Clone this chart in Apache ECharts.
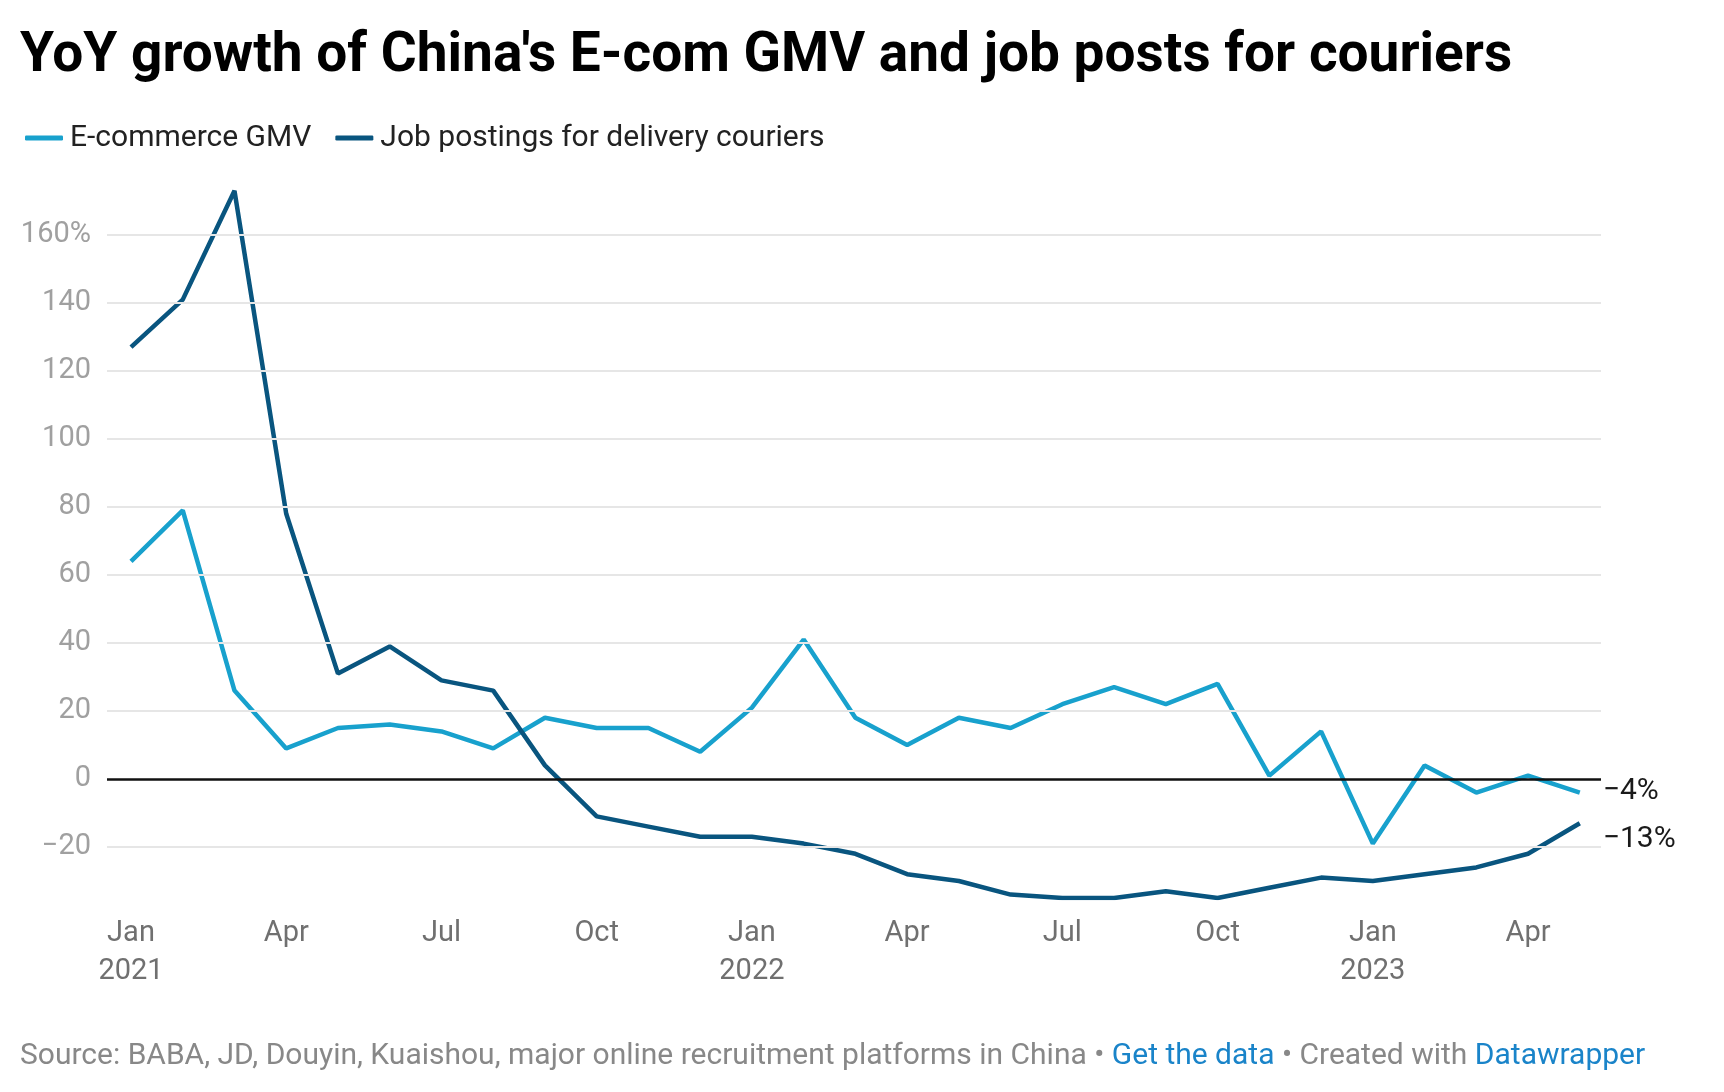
<!DOCTYPE html>
<html>
<head>
<meta charset="utf-8">
<title>YoY growth of China's E-com GMV and job posts for couriers</title>
<script src="https://cdn.jsdelivr.net/npm/echarts@6/dist/echarts.min.js"></script>
<style>
  html, body { margin: 0; padding: 0; background: #fff; }
  #chart { width: 1724px; height: 1092px; }
</style>
</head>
<body>
<div id="chart"></div>
<script>
// months Jan 2021 .. May 2023
var months = ['2021-01','2021-02','2021-03','2021-04','2021-05','2021-06','2021-07','2021-08','2021-09','2021-10','2021-11','2021-12',
  '2022-01','2022-02','2022-03','2022-04','2022-05','2022-06','2022-07','2022-08','2022-09','2022-10','2022-11','2022-12',
  '2023-01','2023-02','2023-03','2023-04','2023-05'];
// YoY growth in %
var gmv = [64, 79, 26, 9, 15, 16, 14, 9, 18, 15, 15, 8,
  21, 41, 18, 10, 18, 15, 22, 27, 22, 28, 1, 14,
  -19, 4, -4, 1, -4];
var jobPosts = [127, 141, 173, 78, 31, 39, 29, 26, 4, -11, -14, -17,
  -17, -19, -22, -28, -30, -34, -35, -35, -33, -35, -32, -29,
  -30, -28, -26, -22, -13];
// x tick labels (month index -> label)
var xTickIdx = [0, 3, 6, 9, 12, 15, 18, 21, 24, 27];
var xTickLabels = ['Jan\n2021', 'Apr', 'Jul', 'Oct', 'Jan\n2022', 'Apr', 'Jul', 'Oct', 'Jan\n2023', 'Apr'];
var yTicks = [-20, 0, 20, 40, 60, 80, 100, 120, 140, 160];

var gmvColor = '#18a1cd';
var jobColor = '#09557f';

var chart = echarts.init(document.getElementById('chart'));

function minus(v) {
  return v < 0 ? '\u2212' + Math.abs(v) : String(v);
}

// gridlines drawn as markLines so they can stop at -20 / 160
var gridLines = yTicks.map(function (v) {
  if (v === 0) {
    return { yAxis: 0, lineStyle: { color: '#111', width: 2.5, type: 'solid' } };
  }
  return { yAxis: v };
});

var option = {
  animation: false,
  textStyle: { fontFamily: 'Roboto' },
  grid: { left: 107, right: 123, top: 184, bottom: 194 },
  legend: {
    left: 20,
    top: 118,
    icon: 'roundRect',
    itemWidth: 38,
    itemHeight: 5,
    itemGap: 24,
    textStyle: { fontSize: 30, color: '#222', padding: [0, 0, 0, 2] },
    data: ['E-commerce GMV', 'Job postings for delivery couriers']
  },
  graphic: [
    {
      type: 'text',
      left: 20,
      top: 30,
      style: {
        text: "YoY growth of China's E-com GMV and job posts for couriers",
        font: 'bold 55px Roboto',
        fill: '#000'
      }
    },
    {
      type: 'text',
      left: 20,
      top: 1041,
      style: {
        text: '{a|Source: BABA, JD, Douyin, Kuaishou, major online recruitment platforms in China \u2022 }{b|Get the data}{a| \u2022 Created with }{b|Datawrapper}',
        rich: {
          a: { fontSize: 30, fontFamily: 'Roboto', fill: '#888' },
          b: { fontSize: 30, fontFamily: 'Roboto', fill: '#1a84c9' }
        }
      }
    }
  ],
  xAxis: {
    type: 'value',
    min: -0.464,
    max: 28.41,
    axisLine: { show: false },
    axisTick: { show: false },
    splitLine: { show: false },
    axisLabel: {
      customValues: xTickIdx,
      formatter: function (v) {
        var k = xTickIdx.indexOf(Math.round(v));
        return k >= 0 ? xTickLabels[k] : '';
      },
      fontSize: 29,
      lineHeight: 38,
      color: '#707070',
      margin: 17
    }
  },
  yAxis: {
    type: 'value',
    min: -35,
    max: 175,
    axisLine: { show: false },
    axisTick: { show: false },
    splitLine: { show: false },
    axisLabel: {
      customValues: yTicks,
      formatter: function (v) {
        return v === 160 ? '160%' : minus(v);
      },
      fontSize: 29,
      color: '#a0a0a0',
      padding: [5, 0, 0, 0],
      margin: 16
    }
  },
  series: [
    {
      name: 'grid',
      type: 'line',
      data: [],
      z: 1,
      silent: true,
      markLine: {
        silent: true,
        symbol: 'none',
        label: { show: false },
        lineStyle: { color: '#e6e6e6', width: 2, type: 'solid' },
        data: gridLines
      }
    },
    {
      name: 'E-commerce GMV',
      type: 'line',
      z: 3,
      data: gmv.map(function (v, i) { return [i, v]; }),
      showSymbol: false,
      itemStyle: { color: gmvColor },
      lineStyle: { width: 4.5, color: gmvColor },
      endLabel: {
        show: true,
        formatter: function (p) { return minus(p.value[1]) + '%'; },
        fontSize: 30,
        color: '#1a1a1a',
        offset: [15, -1]
      }
    },
    {
      name: 'Job postings for delivery couriers',
      type: 'line',
      z: 4,
      data: jobPosts.map(function (v, i) { return [i, v]; }),
      showSymbol: false,
      itemStyle: { color: jobColor },
      lineStyle: { width: 4.5, color: jobColor },
      endLabel: {
        show: true,
        formatter: function (p) { return minus(p.value[1]) + '%'; },
        fontSize: 30,
        color: '#1a1a1a',
        offset: [15, 16]
      }
    }
  ]
};

chart.setOption(option);
</script>
</body>
</html>
